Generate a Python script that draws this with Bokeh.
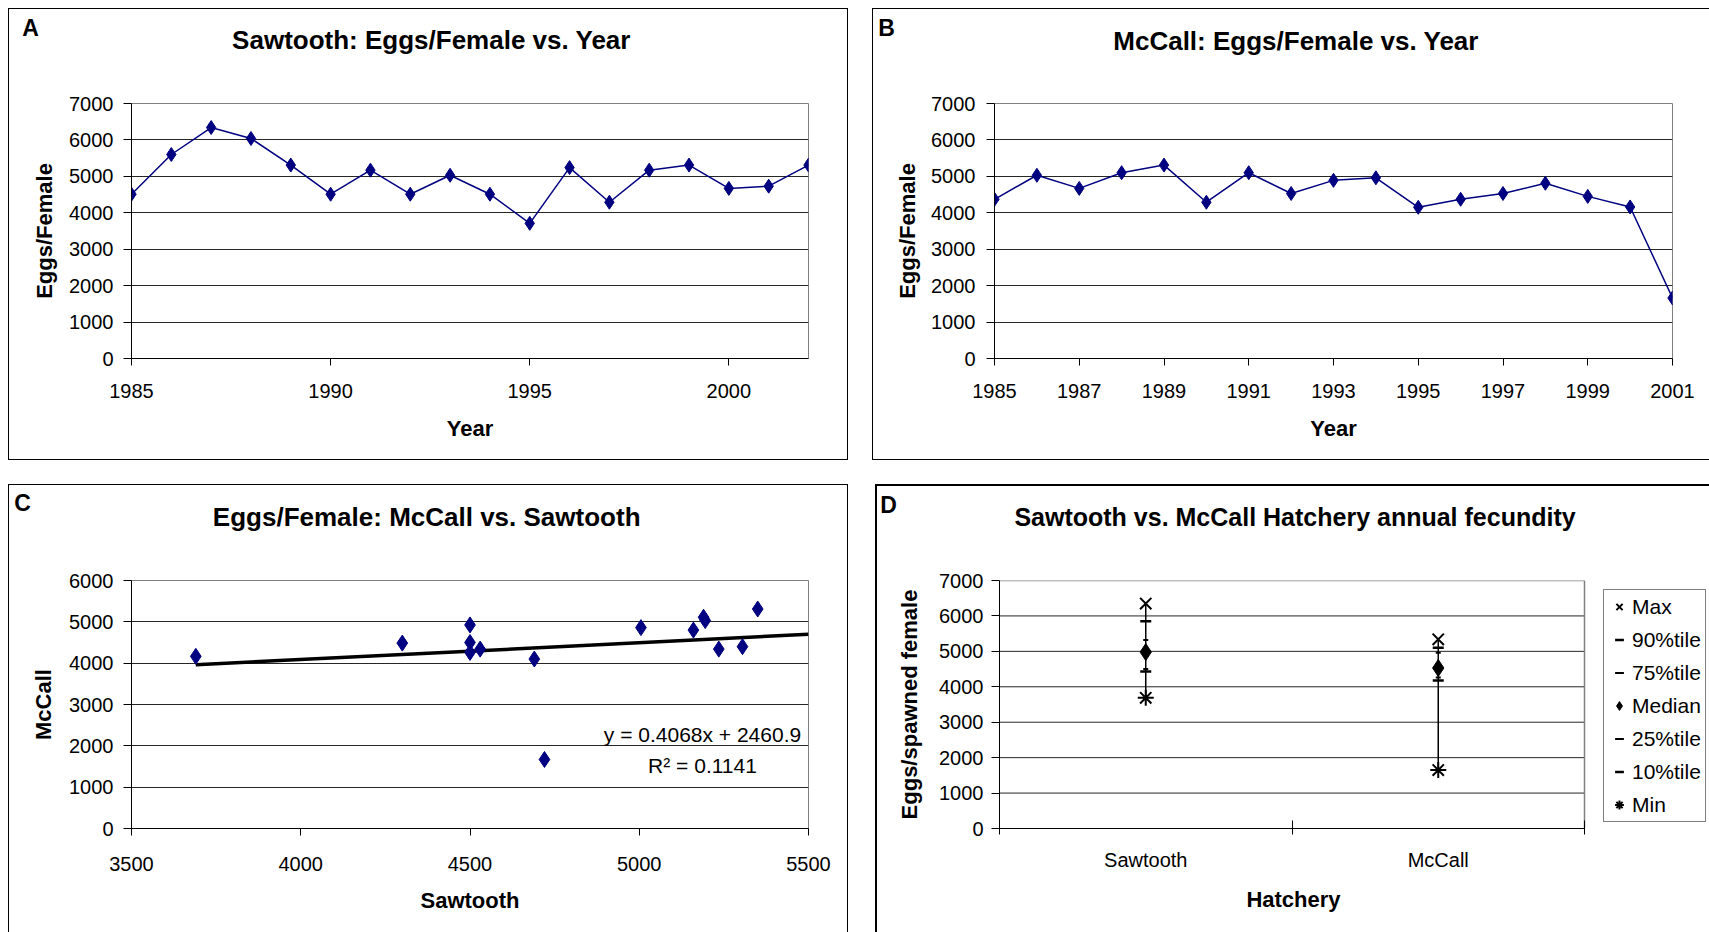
from bokeh.plotting import figure
from bokeh.layouts import column, row
from bokeh.models import FixedTicker, Label, Legend, LegendItem, Range1d, ColumnDataSource
from bokeh.embed import file_html
from bokeh.resources import INLINE

FONT = "Liberation Sans"
NAVY = "#000080"

# ---------------- data ----------------
years_sawtooth = [1985, 1986, 1987, 1988, 1989, 1990, 1991, 1992, 1993, 1994,
                  1995, 1996, 1997, 1998, 1999, 2000, 2001, 2002]
eggs_sawtooth = [4510, 5600, 6340, 6040, 5310, 4510, 5170, 4510, 5030, 4510,
                 3710, 5240, 4290, 5170, 5310, 4670, 4730, 5310]

years_mccall = [1985, 1986, 1987, 1988, 1989, 1990, 1991, 1992, 1993, 1994,
                1995, 1996, 1997, 1998, 1999, 2000, 2001]
eggs_mccall = [4370, 5030, 4670, 5100, 5310, 4290, 5100, 4530, 4890, 4960,
               4150, 4370, 4530, 4810, 4450, 4160, 1660]

scatter_sawtooth = [3690, 4300, 4500, 4500, 4500, 4530, 4690, 4720, 5005, 5160,
                    5190, 5195, 5235, 5305, 5350]
scatter_mccall = [4165, 4485, 4925, 4500, 4260, 4340, 4100, 1670, 4860, 4800,
                  5110, 5030, 4340, 4400, 5310]
trend_slope = 0.4068
trend_intercept = 2460.9
trend_r2 = 0.1141

hatcheries = ["Sawtooth", "McCall"]
stat_max = [6350, 5340]
stat_p90 = [5850, 5100]
stat_p75 = [5320, 4960]
stat_median = [4980, 4530]
stat_p25 = [4500, 4260]
stat_p10 = [4430, 4180]
stat_min = [3690, 1650]

ticks_a_x = [1985, 1990, 1995, 2000]
ticks_b_x = [1985, 1987, 1989, 1991, 1993, 1995, 1997, 1999, 2001]
ticks_c_x = [3500, 4000, 4500, 5000, 5500]
ticks_7000 = [0, 1000, 2000, 3000, 4000, 5000, 6000, 7000]
ticks_6000 = [0, 1000, 2000, 3000, 4000, 5000, 6000]


# ---------------- helpers ----------------
def make_fig(w, h, lb, rb, tb, bb, xr, yr, shadow):
    p = figure(width=w, height=h, x_range=xr, y_range=yr,
               output_backend="svg", toolbar_location=None,
               min_border_left=lb, min_border_right=rb,
               min_border_top=tb, min_border_bottom=bb)
    p.outline_line_color = "#808080"
    p.outline_line_width = 1
    p.background_fill_color = "white"
    p.border_fill_color = None
    p.xgrid.visible = False
    p.ygrid.grid_line_color = "#262626"
    p.ygrid.grid_line_width = 1
    p.styles = {"box-shadow": shadow, "background-color": "white"}
    p._geom = (w, h, lb, tb, bb)
    for ax in (p.xaxis[0], p.yaxis[0]):
        ax.axis_line_color = "black"
        ax.axis_line_width = 1
        ax.major_tick_line_color = "black"
        ax.major_tick_in = 0
        ax.minor_tick_line_color = None
        ax.major_label_text_font = FONT
        ax.major_label_text_font_size = "20px"
        ax.major_label_text_color = "black"
        ax.axis_label_text_font = FONT
        ax.axis_label_text_font_size = "22px"
        ax.axis_label_text_font_style = "bold"
        ax.axis_label_text_color = "black"
    p.yaxis[0].major_tick_out = 8
    p.xaxis[0].major_tick_out = 7
    return p


LETTER_SIZE = 23
BOX_RATIO = 1.057   # height a text label occupies in the top margin, per px of font size


def above_label(p, text, fx, fy, size, stacked_h, bold=True):
    """Label in the figure's top margin; (fx, fy) = text centre in px from the figure's
    top-left; stacked_h = height already used by the earlier labels of that margin."""
    w, h, lb, tb, bb = p._geom
    lab = Label(x=fx - lb, y=(tb - stacked_h) - fy, x_units="screen", y_units="screen",
                text=text, text_font=FONT, text_font_size=f"{size}px",
                text_font_style="bold" if bold else "normal", text_align="center",
                text_baseline="middle", text_color="black")
    p.add_layout(lab, "above")
    return stacked_h + BOX_RATIO * size


def add_heading(p, letter, lx, ly, title, tx, ty, title_size=26):
    used = above_label(p, letter, lx, ly, LETTER_SIZE, 0)
    return above_label(p, title, tx, ty, title_size, used)


def add_text(p, text, fx, fy, size):
    w, h, lb, tb, bb = p._geom
    p.add_layout(Label(x=fx - lb, y=(h - bb) - fy, x_units="screen", y_units="screen",
                       text=text, text_font=FONT, text_font_size=size,
                       text_align="center", text_baseline="middle", text_color="black"))


def set_standoffs(p, ylab, yaxl, xlab, xaxl):
    p.yaxis[0].major_label_standoff = ylab
    p.yaxis[0].axis_label_standoff = yaxl
    p.xaxis[0].major_label_standoff = xlab
    p.xaxis[0].axis_label_standoff = xaxl


# ---------------- Panel A ----------------
pa = make_fig(840, 452, 123, 40, 95, 102,
              Range1d(years_sawtooth[0], years_sawtooth[-1]), Range1d(0, 7000),
              "inset 0 0 0 1px #000000")
pa.xaxis[0].ticker = FixedTicker(ticks=ticks_a_x)
pa.yaxis[0].ticker = FixedTicker(ticks=ticks_7000)
pa.xaxis[0].axis_label = "Year"
pa.yaxis[0].axis_label = "Eggs/Female"
set_standoffs(pa, 10, 9, 18, 15)
pa.line(years_sawtooth, eggs_sawtooth, line_color=NAVY, line_width=1.5)
pa.scatter(years_sawtooth, eggs_sawtooth, marker="diamond", size=14,
           fill_color=NAVY, line_color=NAVY)
add_heading(pa, "A", 22, 19.7, "Sawtooth: Eggs/Female vs. Year", 423, 33)

# ---------------- Panel B ----------------
pb = make_fig(837, 452, 122, 37, 95, 102,
              Range1d(years_mccall[0], years_mccall[-1]), Range1d(0, 7000),
              "inset 1px 1px 0 0 #000000, inset 0 -1px 0 0 #000000")
pb.xaxis[0].ticker = FixedTicker(ticks=ticks_b_x)
pb.yaxis[0].ticker = FixedTicker(ticks=ticks_7000)
pb.xaxis[0].axis_label = "Year"
pb.yaxis[0].axis_label = "Eggs/Female"
set_standoffs(pb, 11, 8, 18, 15)
pb.line(years_mccall, eggs_mccall, line_color=NAVY, line_width=1.5)
pb.scatter(years_mccall, eggs_mccall, marker="diamond", size=14,
           fill_color=NAVY, line_color=NAVY)
add_heading(pb, "B", 14, 19.7, "McCall: Eggs/Female vs. Year", 423.6, 33.7)

# ---------------- Panel C ----------------
pc = make_fig(840, 448, 123, 40, 96, 101,
              Range1d(ticks_c_x[0], ticks_c_x[-1]), Range1d(0, 6000),
              "inset 1px 1px 0 0 #000000, inset -1px 0 0 0 #000000")
pc.xaxis[0].ticker = FixedTicker(ticks=ticks_c_x)
pc.yaxis[0].ticker = FixedTicker(ticks=ticks_6000)
pc.xaxis[0].axis_label = "Sawtooth"
pc.yaxis[0].axis_label = "McCall"
set_standoffs(pc, 10, 10, 21, 14)
trend_x = [min(scatter_sawtooth), ticks_c_x[-1]]
trend_y = [trend_slope * v + trend_intercept for v in trend_x]
pc.line(trend_x, trend_y, line_color="black", line_width=3.5)
pc.scatter(scatter_sawtooth, scatter_mccall, marker="diamond", size=16,
           fill_color=NAVY, line_color=NAVY)
add_heading(pc, "C", 14, 18.7, "Eggs/Female:  McCall vs. Sawtooth", 421.8, 34.3)
add_text(pc, f"y = {trend_slope}x + {trend_intercept}", 694, 252.7, "21px")
add_text(pc, f"R\u00b2 = {trend_r2}", 694, 284.3, "21px")

# ---------------- Panel D ----------------
# The plot area proper is 585 px wide; the frame is extended to the right edge of the
# panel (710 px) so that the legend, which sits right of the plot area, is inside it.
D_W, D_LB = 834, 124
D_PLOT_W = 585
D_FRAME_W = D_W - D_LB
n_cat = len(hatcheries)
d_x_end = n_cat * D_FRAME_W / D_PLOT_W
hat_x = [i + 0.5 for i in range(n_cat)]
d_ymax = ticks_7000[-1]

pd_ = make_fig(D_W, 448, D_LB, 0, 95, 104,
               Range1d(0, d_x_end), Range1d(0, d_ymax),
               "inset 2px 2px 0 0 #000000")
pd_.outline_line_color = None
pd_.ygrid.visible = False
pd_.xaxis[0].bounds = (0, n_cat)
pd_.xaxis[0].ticker = FixedTicker(ticks=hat_x, minor_ticks=list(range(n_cat + 1)))
pd_.xaxis[0].major_label_overrides = {hx: name for hx, name in zip(hat_x, hatcheries)}
pd_.xaxis[0].major_tick_out = 0
pd_.xaxis[0].minor_tick_line_color = "black"
pd_.xaxis[0].minor_tick_in = 8
pd_.xaxis[0].minor_tick_out = 6
pd_.yaxis[0].ticker = FixedTicker(ticks=ticks_7000)
pd_.yaxis[0].axis_label = "Eggs/spawned female"
set_standoffs(pd_, 8, 14, 14, 15)

# horizontal gridlines and the grey plot-area border, limited to the category span
grid_y = ticks_7000[1:-1]
pd_.segment(x0=[0] * len(grid_y), y0=grid_y, x1=[n_cat] * len(grid_y), y1=grid_y,
            line_color="#262626", line_width=1, level="underlay")
pd_.segment(x0=[0, n_cat], y0=[d_ymax, 0], x1=[n_cat, n_cat], y1=[d_ymax, d_ymax],
            line_color="#808080", line_width=1.5, level="underlay")

src = ColumnDataSource(dict(x=hat_x, mx=stat_max, p90=stat_p90, p75=stat_p75,
                            med=stat_median, p25=stat_p25, p10=stat_p10, mn=stat_min))
pd_.segment(x0="x", y0="mn", x1="x", y1="mx", source=src, line_color="black", line_width=1.5)
r_max = pd_.scatter(x="x", y="mx", source=src, marker="x", size=16,
                    line_color="black", line_width=2)
r_p90 = pd_.scatter(x="x", y="p90", source=src, marker="dash", size=11,
                    line_color="black", line_width=2.5)
r_p75 = pd_.scatter(x="x", y="p75", source=src, marker="dash", size=5,
                    line_color="black", line_width=2)
r_med = pd_.scatter(x="x", y="med", source=src, marker="diamond", size=17,
                    fill_color="black", line_color="black")
r_p25 = pd_.scatter(x="x", y="p25", source=src, marker="dash", size=5,
                    line_color="black", line_width=2)
r_p10 = pd_.scatter(x="x", y="p10", source=src, marker="dash", size=11,
                    line_color="black", line_width=2.5)
r_min = pd_.scatter(x="x", y="mn", source=src, marker="asterisk", size=16,
                    line_color="black", line_width=2)

legend = Legend(items=[
    LegendItem(label="Max", renderers=[r_max]),
    LegendItem(label="90%tile", renderers=[r_p90]),
    LegendItem(label="75%tile", renderers=[r_p75]),
    LegendItem(label="Median", renderers=[r_med]),
    LegendItem(label="25%tile", renderers=[r_p25]),
    LegendItem(label="10%tile", renderers=[r_p10]),
    LegendItem(label="Min", renderers=[r_min]),
], location=(604, 6))
legend.border_line_color = "black"
legend.border_line_width = 1
legend.background_fill_color = "white"
legend.background_fill_alpha = 1
legend.padding = 4
legend.spacing = 8
legend.margin = 0
legend.glyph_width = 22
legend.glyph_height = 25
legend.label_height = 25
legend.label_standoff = 2
legend.label_text_font = FONT
legend.label_text_font_size = "21px"
legend.label_text_color = "black"
pd_.add_layout(legend)

used = add_heading(pd_, "D", 13, 19.3, "Sawtooth vs. McCall Hatchery annual fecundity",
                   419.5, 32.7, title_size=25)
# x-axis title, centred under the category span (not under the extended frame)
above_label(pd_, "Hatchery", 418, 417, 22, used)

layout = column(row(pa, pb, spacing=24), row(pc, pd_, spacing=27), spacing=24,
                margin=(8, 0, 0, 8))

open("out.html", "w").write(file_html(layout, INLINE))
